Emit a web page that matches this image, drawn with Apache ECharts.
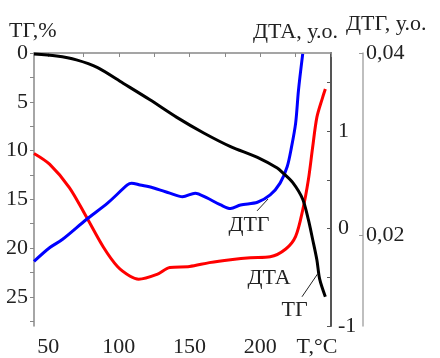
<!DOCTYPE html>
<html><head><meta charset="utf-8">
<script src="https://cdn.jsdelivr.net/npm/echarts@6/dist/echarts.min.js"></script>
<style>html,body{margin:0;padding:0;background:#fff}#c{width:440px;height:358px}</style>
</head><body><div id="c"></div>
<script>
// TG curve (%, left inverted axis)
const tgT = [40, 56, 70, 85, 103, 122, 141, 160, 179, 198, 212, 216, 223, 230, 234, 237, 240, 242, 246];
const tgV = [0.1, 0.3, 0.7, 1.5, 3.1, 4.8, 6.6, 8.2, 9.6, 10.7, 11.8, 12.3, 13.3, 15.0, 17.1, 19.1, 21.2, 23.2, 25.0];
// DTA curve (a.u.)
const dtaT = [40, 51, 65, 77, 89, 99, 108, 114, 127, 136, 150, 164, 179, 193, 207, 218, 225, 230, 234, 237, 240, 244, 246];
const dtaV = [0.77, 0.66, 0.42, 0.12, -0.19, -0.39, -0.49, -0.52, -0.47, -0.40, -0.39, -0.35, -0.32, -0.30, -0.29, -0.21, -0.08, 0.19, 0.50, 0.83, 1.14, 1.34, 1.43];
// DTG curve (a.u.)
const dtgT = [40, 51, 60, 77, 92, 106, 109, 115, 124, 136, 145, 154, 162, 172, 179, 186, 198, 207, 214, 219, 222, 225, 227, 230];
const dtgV = [0.0171, 0.0186, 0.0195, 0.0217, 0.0235, 0.0255, 0.0257, 0.0255, 0.0252, 0.0246, 0.0242, 0.0246, 0.0241, 0.0233, 0.0229, 0.0233, 0.0236, 0.0244, 0.0257, 0.0275, 0.0296, 0.0323, 0.0359, 0.0399];
// ticks / labels
const xTicks = [50, 75, 100, 125, 150, 175, 200, 225, 250];
const xLabels = [50, 100, 150, 200];
const tgTicks = [0, 2.5, 5, 7.5, 10, 12.5, 15, 17.5, 20, 22.5, 25, 27.5];
const tgLabels = [0, 5, 10, 15, 20, 25];
const dtaTicks = [-1, -0.5, 0, 0.5, 1, 1.5];
const dtaLabels = [-1, 0, 1];
const dtgTicks = [0.02, 0.04];
const dtgLabels = [0.02, 0.04];

const pairs = (a, b) => a.map((t, i) => [t, b[i]]);
const FONT = 'Liberation Serif';
const chart = echarts.init(document.getElementById('c'), null, {renderer: 'canvas'});
const lbl = {fontFamily: FONT, fontSize: 22, color: '#222'};
const lineS = (color, yi, t, v) => ({type: 'line', yAxisIndex: yi, data: pairs(t, v), smooth: 0.3,
  showSymbol: false, lineStyle: {color: color, width: 3}});
chart.setOption({
  animation: false,
  grid: {left: 34, right: 109, top: 53, bottom: 31},
  xAxis: {
    type: 'value', min: 40, max: 250,
    axisLine: {show: true, lineStyle: {color: '#888', width: 1.5}},
    axisTick: {show: true, inside: false, length: 4, customValues: xTicks, lineStyle: {color: '#888'}},
    axisLabel: Object.assign({customValues: xLabels, margin: 10}, lbl),
    splitLine: {show: false}
  },
  yAxis: [
    {
      type: 'value', min: 0, max: 28, inverse: true, position: 'left',
      axisLine: {show: true, lineStyle: {color: '#888', width: 1.5}},
      axisTick: {show: true, length: 4, customValues: tgTicks, lineStyle: {color: '#888'}},
      axisLabel: Object.assign({customValues: tgLabels, margin: 6}, lbl),
      splitLine: {show: false}
    },
    {
      type: 'value', min: -1, max: 1.8, position: 'right', offset: 0,
      axisLine: {show: true, onZero: false, lineStyle: {color: '#555', width: 2}},
      axisTick: {show: true, inside: true, length: 4, customValues: dtaTicks, lineStyle: {color: '#555'}},
      axisLabel: Object.assign({}, lbl, {customValues: dtaLabels, margin: 7, align: 'left', formatter: v => String(v)}),
      splitLine: {show: false}
    },
    {
      type: 'value', min: 0.01, max: 0.04, position: 'right', offset: 32,
      axisLine: {show: true, onZero: false, lineStyle: {color: '#aaa', width: 1.5}},
      axisTick: {show: true, inside: true, length: 4, customValues: dtgTicks, lineStyle: {color: '#999'}},
      axisLabel: Object.assign({}, lbl, {customValues: dtgLabels, margin: 3, align: 'left', formatter: v => v.toFixed(2).replace('.', ',')}),
      splitLine: {show: false}
    }
  ],
  series: [
    lineS('#ff0000', 1, dtaT, dtaV),
    lineS('#0000ff', 2, dtgT, dtgV),
    lineS('#000000', 0, tgT, tgV)
  ]
});

function px(axisIdx, x, y) { return chart.convertToPixel({xAxisIndex: 0, yAxisIndex: axisIdx}, [x, y]); }
const tgA = px(0, 229.5, 25.0), tgB = px(0, 240.8, 22.6), tgTxt = px(0, 224.3, 26.4);
const dtgA = px(2, 197.7, 0.02265), dtgB = px(2, 205.5, 0.02396), dtgTxt = px(2, 192, 0.02102);
const dtaTxt = px(1, 206.2, -0.511);
const txt = (s, x, y, align) => ({type: 'text', x: x, y: y, z: 10,
  style: {text: s, fontFamily: FONT, fontSize: 22, fill: '#222', align: align || 'center', verticalAlign: 'middle'}});
chart.setOption({
  graphic: [
    txt('ТГ,%', 9, 31, 'left'),
    txt('ДТА, у.о.', 338, 32, 'right'),
    txt('ДТГ, у.о.', 346, 24, 'left'),
    txt('T,°C', 317, 347),
    txt('ДТГ', dtgTxt[0], dtgTxt[1]),
    txt('ДТА', dtaTxt[0], dtaTxt[1]),
    txt('ТГ', tgTxt[0], tgTxt[1]),
    {type: 'line', z: 10, shape: {x1: tgA[0], y1: tgA[1], x2: tgB[0], y2: tgB[1]}, style: {stroke: '#222', lineWidth: 1}},
    {type: 'line', z: 10, shape: {x1: dtgA[0], y1: dtgA[1], x2: dtgB[0], y2: dtgB[1]}, style: {stroke: '#222', lineWidth: 1}}
  ]
});
</script></body></html>
